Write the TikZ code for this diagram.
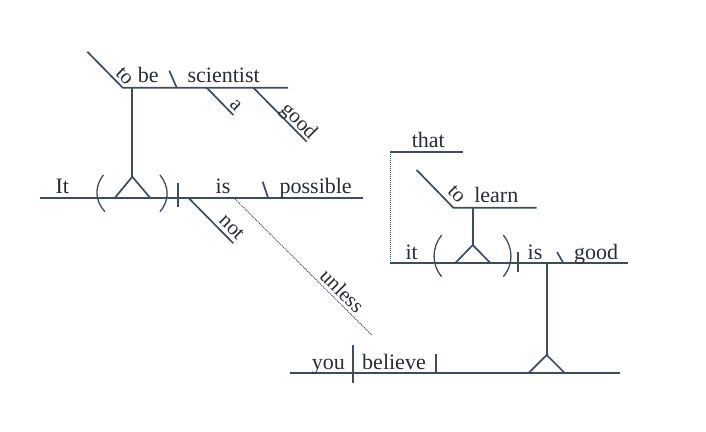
\documentclass[tikz,border=0pt]{standalone}
\usepackage{fontspec}
\setmainfont{Liberation Serif}
\definecolor{ln}{RGB}{62,76,96}
\definecolor{tx}{RGB}{40,44,52}
\begin{document}
\begin{tikzpicture}[x=1pt,y=-1pt,
  ln/.style={draw=ln,line width=1.7pt},
  thin/.style={draw=ln,line width=1.3pt},
  dots/.style={draw=ln,line width=1pt,dash pattern=on 1pt off 1pt},
  w/.style={text=tx,font=\fontsize{22}{24}\selectfont,inner sep=0pt,anchor=base},
  rw/.style={text=tx,font=\fontsize{21}{23}\selectfont,inner sep=0pt,rotate=-45}]
\useasboundingbox (0,0) rectangle (706,431);
% ---------- top clause: to be a good scientist
\coordinate (tbL) at (122.7,87.7);
\coordinate (tbR) at (288,87.7);
\coordinate (toA) at (87.3,51.7);
\draw[ln] (toA) -- (tbL) -- (tbR);
\coordinate (s1a) at (169.3,70.7); \coordinate (s1b) at (176.7,87.7);
\draw[ln] (s1a) -- (s1b);
\coordinate (aA) at (206.7,87.7); \coordinate (aB) at (233.3,115);
\draw[ln] (aA) -- (aB);
\coordinate (gA) at (253.3,87.7); \coordinate (gB) at (306.7,141.7);
\draw[ln] (gA) -- (gB);
\node[rw] (to1) at (124.7,75.7) {to};
\node[w] (be) at (148.3,82.7) {be};
\node[w] (sci) at (223.7,82.7) {scientist};
\node[rw] (a) at (235.7,105.7) {a};
\node[rw] (good1) at (298.3,121.7) {good};
% stem
\coordinate (st1t) at (132.3,87.7);
\coordinate (st1a) at (132.3,176.7);
\coordinate (st1l) at (115,197.7);
\coordinate (st1r) at (150,197.7);
\draw[ln] (st1t) -- (st1a);
\draw[ln] (st1l) -- (st1a) -- (st1r);
% ---------- main clause
\coordinate (m1L) at (40,197.7);
\coordinate (m1R) at (363,197.7);
\draw[ln] (m1L) -- (m1R);
\draw[thin] (103.3,175) .. controls (95,186) and (94,200) .. (105,211.7);
\draw[thin] (160,175) .. controls (169,186) and (170,200) .. (160,211.7);
\coordinate (b1t) at (178.3,183.3); \coordinate (b1b) at (178.3,206.7);
\draw[ln] (b1t) -- (b1b);
\coordinate (s2a) at (262.7,181.7); \coordinate (s2b) at (268,197.7);
\draw[ln] (s2a) -- (s2b);
\coordinate (nA) at (188.3,197.7); \coordinate (nB) at (233.3,243.3);
\draw[ln] (nA) -- (nB);
\node[w] (It) at (62.3,193.3) {It};
\node[w] (is1) at (223,193.3) {is};
\node[w] (poss) at (315.7,193.3) {possible};
\node[rw] (not) at (231.7,227.3) {not};
% unless
\coordinate (uA) at (235,199); \coordinate (uB) at (371.7,335);
\draw[dots] (uA) -- (uB);
\node[rw] (unless) at (342.3,290.7) {unless};
% ---------- right clause
\coordinate (thL) at (390,152.3); \coordinate (thR) at (462.7,152.3);
\draw[ln] (thL) -- (thR);
\node[w] (that) at (428.3,147.3) {that};
\coordinate (m2L) at (390,263.3); \coordinate (m2R) at (628.3,263.3);
\draw[dots] (thL) -- (m2L);
\draw[ln] (m2L) -- (m2R);
\coordinate (tlA) at (416.7,170); \coordinate (tlL) at (453.3,207.7); \coordinate (tlR) at (536.7,207.7);
\draw[ln] (tlA) -- (tlL) -- (tlR);
\node[rw] (to2) at (456.7,194) {to};
\node[w] (learn) at (496.3,202.3) {learn};
\coordinate (st2t) at (472.7,207.7); \coordinate (st2a) at (472.7,245);
\coordinate (st2l) at (455,263.3); \coordinate (st2r) at (490.7,263.3);
\draw[ln] (st2t) -- (st2a);
\draw[ln] (st2l) -- (st2a) -- (st2r);
\draw[thin] (441.7,235) .. controls (432,247) and (431,264) .. (441.7,276.7);
\draw[thin] (503.3,235) .. controls (513,247) and (514,264) .. (503.3,276.7);
\coordinate (b2t) at (517.7,251.7); \coordinate (b2b) at (517.7,271.7);
\draw[ln] (b2t) -- (b2b);
\coordinate (s3a) at (557,252); \coordinate (s3b) at (563.5,263.3);
\draw[ln] (s3a) -- (s3b);
\node[w] (it2) at (411.7,259.3) {it};
\node[w] (is2) at (535,259.3) {is};
\node[w] (good2) at (596,259.3) {good};
% stem down
\coordinate (st3t) at (546.7,263.3); \coordinate (st3a) at (546.7,355);
\coordinate (st3l) at (528.3,373.3); \coordinate (st3r) at (565,373.3);
\draw[ln] (st3t) -- (st3a);
\draw[ln] (st3l) -- (st3a) -- (st3r);
% ---------- bottom clause
\coordinate (m3L) at (290,373.3); \coordinate (m3R) at (620,373.3);
\draw[ln] (m3L) -- (m3R);
\coordinate (b3t) at (353.3,345); \coordinate (b3b) at (353.3,383.3);
\draw[ln] (b3t) -- (b3b);
\coordinate (b4t) at (435.7,354); \coordinate (b4b) at (435.7,373.3);
\draw[ln] (b4t) -- (b4b);
\node[w] (you) at (328.3,369.3) {you};
\node[w] (bel) at (394,369.3) {believe};
\end{tikzpicture}
\end{document}
